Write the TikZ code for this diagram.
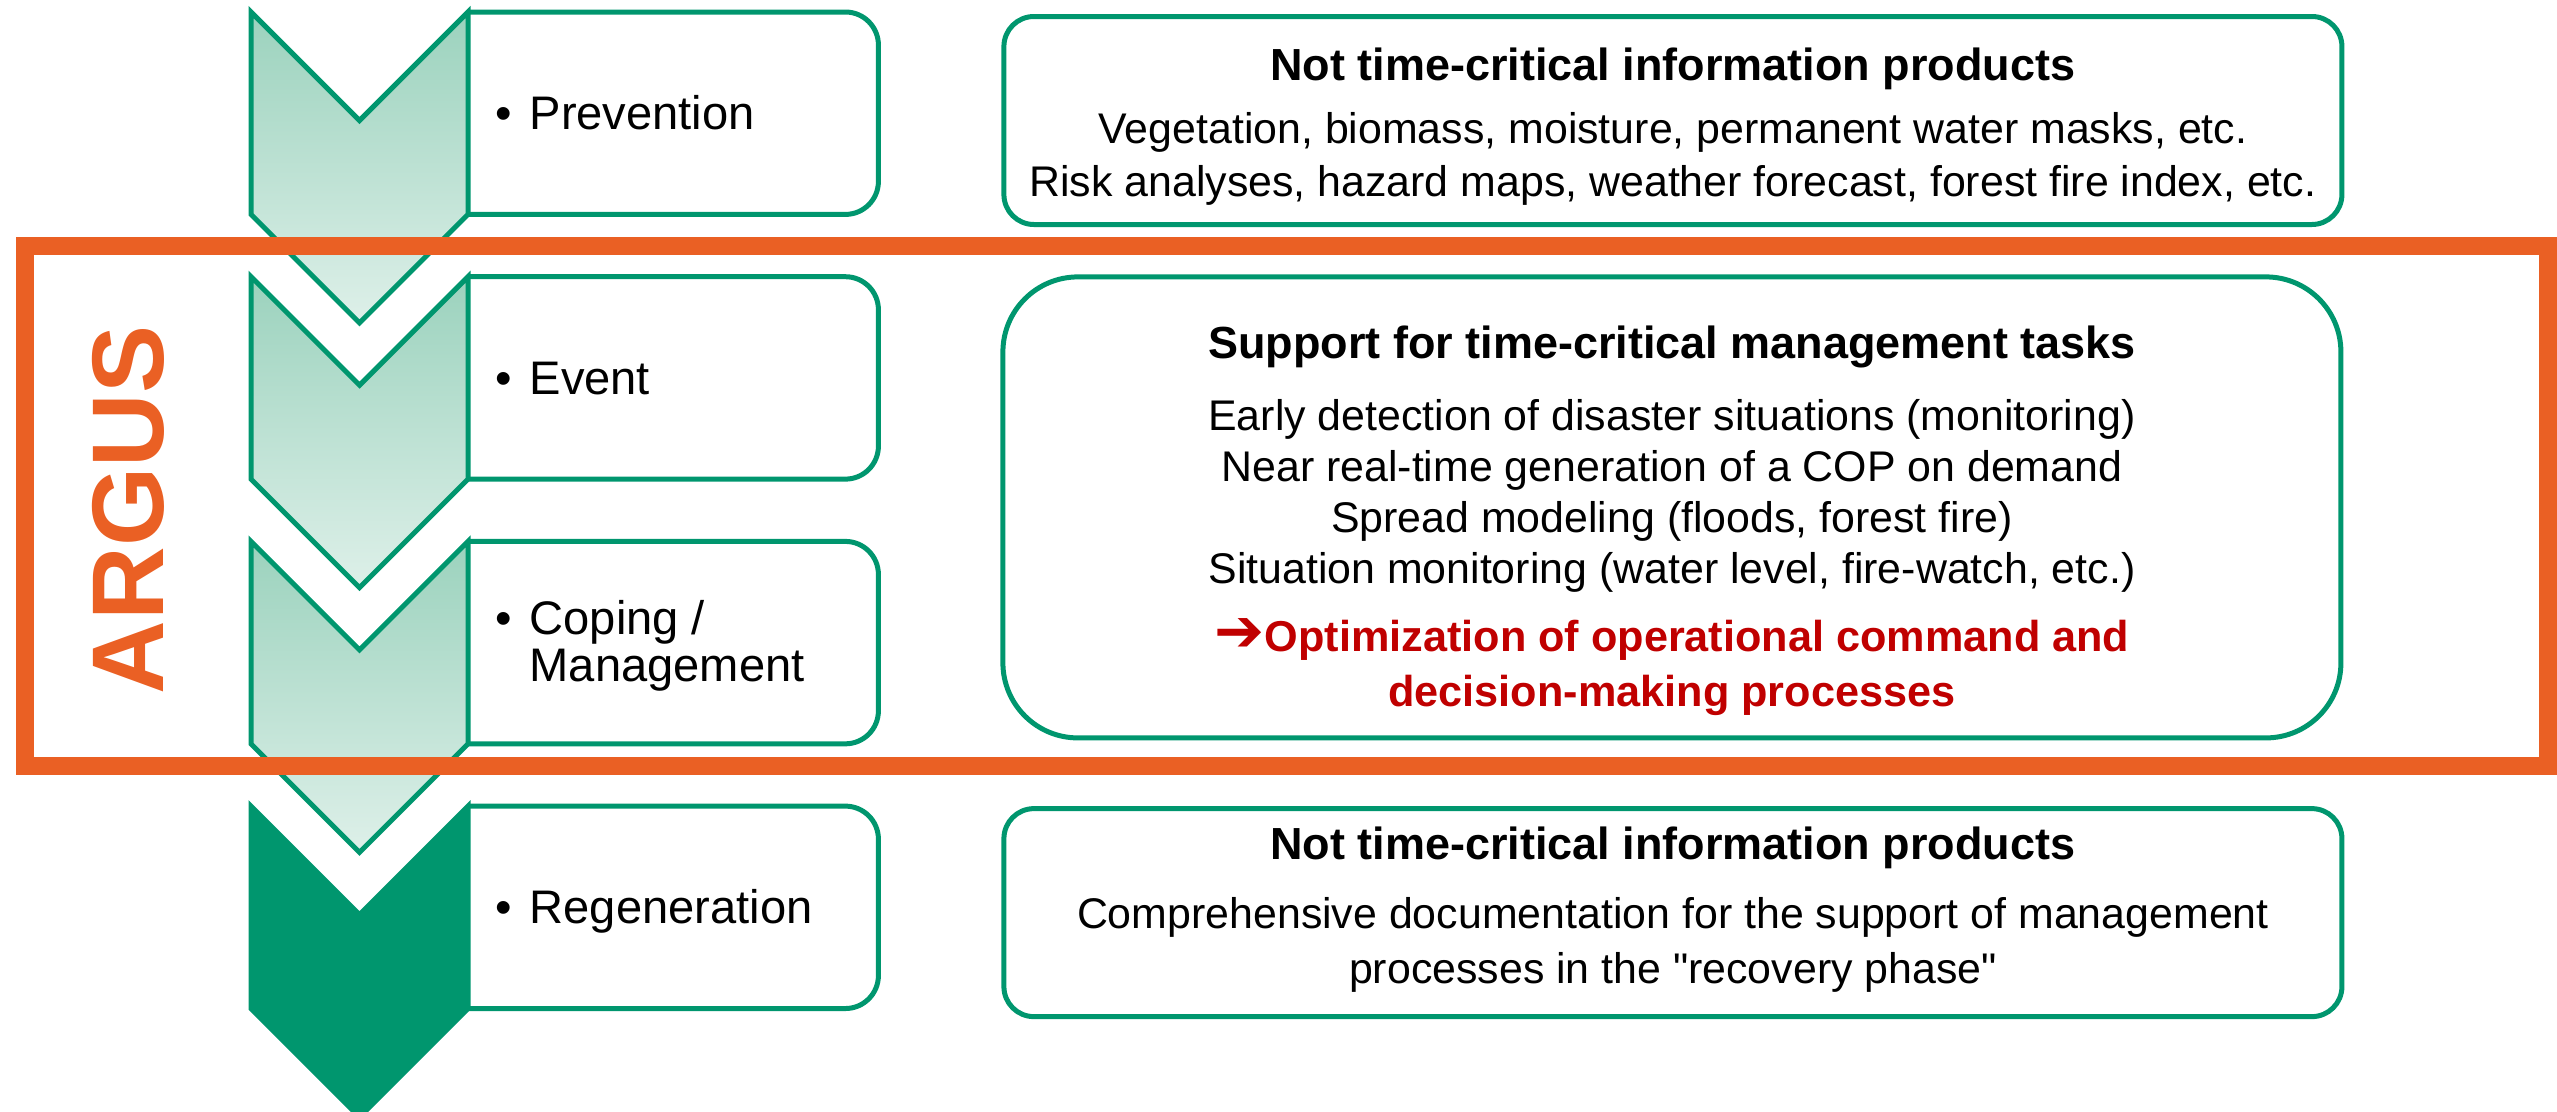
\documentclass[tikz,border=0pt]{standalone}
\usepackage{fontspec}
\setmainfont{Liberation Sans}[Ligatures=TeXOff]
\newfontfamily\arrowsym{DejaVu Sans}
\usepackage{tikz}
\usetikzlibrary{positioning,calc}
\definecolor{argusGreen}{RGB}{0,150,110}
\definecolor{argusOrange}{RGB}{234,96,36}
\definecolor{argusRed}{RGB}{192,0,0}
\definecolor{chevTop}{RGB}{155,210,189}
\definecolor{chevBottom}{RGB}{222,240,233}
\newcommand{\phasebullet}{\makebox[0.34cm][l]{\textbullet}}
\newcommand{\goalarrow}{{\arrowsym\fontsize{17}{17}\selectfont ➔}}
\tikzset{
    chevron/.style={
        draw=argusGreen,
        line width=0.05cm,
        top color=chevTop,
        bottom color=chevBottom
    },
    chevronlast/.style={
        draw=argusGreen,
        line width=0.05cm,
        fill=argusGreen
    },
    phasebox/.style={
        rectangle,
        minimum width=4.09cm,
        minimum height=2.01cm,
        inner sep=0pt
    },
    phaseline/.style={
        draw=argusGreen,
        line width=0.05cm,
        rounded corners=0.33cm
    },
    phaselabel/.style={
        font=\fontsize{13.4}{13.4}\selectfont,
        inner sep=0pt,
        align=left
    },
    infobox/.style={
        rectangle,
        draw=argusGreen,
        line width=0.05cm,
        rounded corners=0.3cm,
        minimum width=13.38cm,
        inner sep=0pt
    },
    infotitle/.style={
        font=\bfseries\fontsize{12.8}{15}\selectfont,
        inner sep=0pt
    },
    infotext/.style={
        font=\fontsize{12.2}{15.1}\selectfont,
        inner sep=0pt,
        align=center
    },
    argusframe/.style={
        draw=argusOrange,
        line width=0.18cm
    }
}

\begin{document}
\begin{tikzpicture}
    \useasboundingbox (0,0) rectangle (25.57,-11.11);

    % phases on the left
    \node[phasebox, anchor=north west] (ph1) at (4.68,-0.12) {};
    \node[phasebox, below=0.623cm of ph1] (ph2) {};
    \node[phasebox, below=0.623cm of ph2] (ph3) {};
    \node[phasebox, below=0.623cm of ph3] (ph4) {};
    \foreach \p in {ph1,ph2,ph3,ph4}
        \draw[phaseline] (\p.north west) -- (\p.north east) -- (\p.south east) -- (\p.south west);

    % chevrons
    \foreach \p in {ph1,ph2,ph3}
        \draw[chevron] ([xshift=-2.17cm]\p.north west) -- ++(1.085,-1.085) -- (\p.north west)
            -- (\p.south west) -- ++(-1.085,-1.085) -- ++(-1.085,1.085) -- cycle;
    \draw[chevronlast] ([xshift=-2.17cm]ph4.north west) -- ++(1.085,-1.085) -- (ph4.north west)
        -- (ph4.south west) -- ++(-1.085,-1.085) -- ++(-1.085,1.085) -- cycle;

    \node[phaselabel, anchor=base west] (lab1) at ([xshift=0.27cm,yshift=-0.165cm]ph1.west) {\phasebullet Prevention};
    \node[phaselabel, anchor=base west] (lab2) at ([xshift=0.27cm,yshift=-0.165cm]ph2.west) {\phasebullet Event};
    \node[phaselabel, anchor=west] (lab3) at ([xshift=0.27cm,yshift=-0.03cm]ph3.west) {\phasebullet Coping /\\\hspace*{0.34cm}Management};
    \node[phaselabel, anchor=base west] (lab4) at ([xshift=0.27cm,yshift=-0.165cm]ph4.west) {\phasebullet Regeneration};

    % information products
    \node[infobox, minimum height=2.08cm, anchor=north west] (info1) at ([xshift=1.23cm,yshift=-0.02cm]ph1.north east) {};
    \node[infotitle, below=0.33cm of info1.north] (title1) {Not time-critical information products};
    \node[infotext, below=0.21cm of title1] (text1) {Vegetation, biomass, moisture, permanent water masks, etc.\\Risk analyses, hazard maps, weather forecast, forest fire index, etc.};

    \node[infobox, rounded corners=0.75cm, minimum height=4.61cm, anchor=north west] (info2) at ([xshift=1.22cm,yshift=0.023cm]ph2.north east) {};
    \node[infotitle, below=0.51cm of info2.north] (title2) {Support for time-critical management tasks};
    \node[infotext, font=\fontsize{12.2}{14.5}\selectfont, below=0.30cm of title2] (text2) {Early detection of disaster situations (monitoring)\\Near real-time generation of a COP on demand\\Spread modeling (floods, forest fire)\\Situation monitoring (water level, fire-watch, etc.)};
    \node[infotext, text=argusRed, font=\bfseries\fontsize{12.3}{15.6}\selectfont, below=0.25cm of text2] (goal2) {\goalarrow Optimization of operational command and\\decision-making processes};

    \node[infobox, minimum height=2.08cm, anchor=north west] (info3) at ([xshift=1.23cm]ph4.north east) {};
    \node[infotitle, below=0.20cm of info3.north] (title3) {Not time-critical information products};
    \node[infotext, font=\fontsize{12.2}{15.6}\selectfont, below=0.27cm of title3] (text3) {Comprehensive documentation for the support of management\\processes in the "recovery phase"};

    % ARGUS frame
    \draw[argusframe] (0.25,-2.46) rectangle (25.48,-7.66);
    \node[font=\bfseries\fontsize{29}{29}\selectfont, text=argusOrange, rotate=90, inner sep=0pt] (argus) at (1.28,-5.10) {ARGUS};
\end{tikzpicture}
\end{document}
